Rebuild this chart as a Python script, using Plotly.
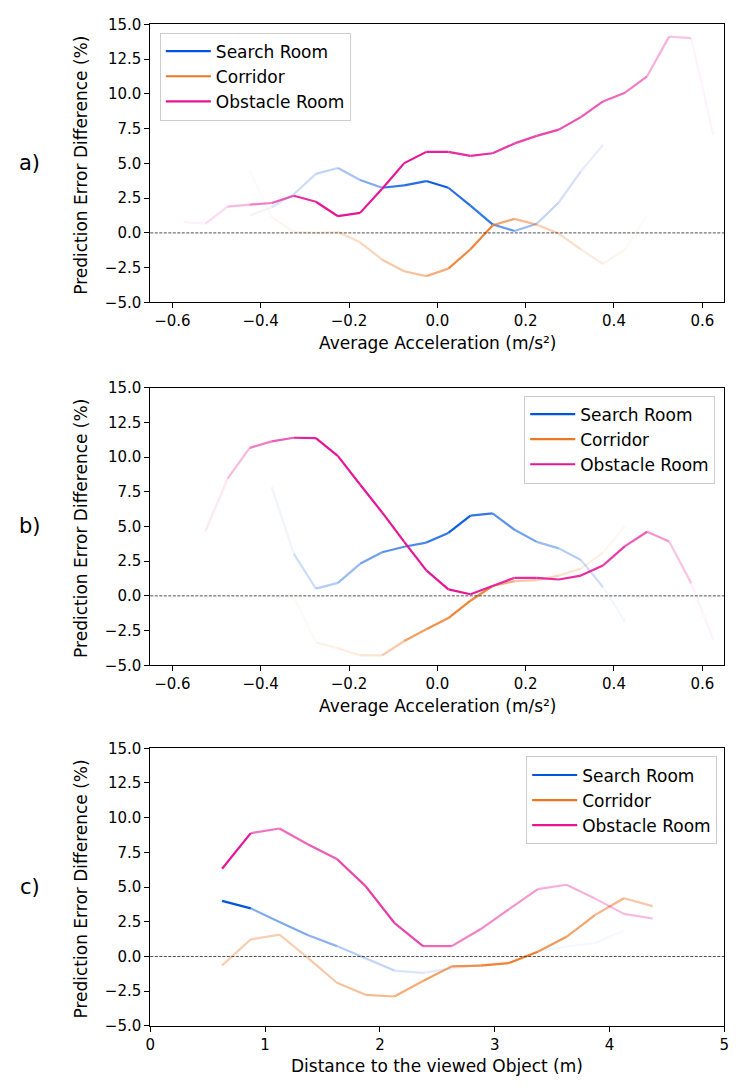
import plotly.graph_objects as go

# ---------------- data ----------------
x_acc = [-0.575, -0.525, -0.475, -0.425, -0.375, -0.325, -0.275, -0.225, -0.175, -0.125,
         -0.075, -0.025, 0.025, 0.075, 0.125, 0.175, 0.225, 0.275, 0.325, 0.375,
         0.425, 0.475, 0.525, 0.575, 0.625]
x_dist = [0.625, 0.875, 1.125, 1.375, 1.625, 1.875, 2.125, 2.375, 2.625, 2.875,
          3.125, 3.375, 3.625, 3.875, 4.125, 4.375]

series_names = ["Search Room", "Corridor", "Obstacle Room"]

# panel a
search_a = [None, None, None, 1.25, 1.84, 2.78, 4.25, 4.67, 3.80, 3.25, 3.42, 3.73, 3.25,
            1.96, 0.61, 0.14, 0.66, 2.19, 4.43, 6.32, None, None, None, None, None]
search_a_alpha = [0, 0, 0, 0.06, 0.15, 0.2, 0.25, 0.35, 0.5, 0.8, 0.85, 0.95, 0.85, 0.8,
                  0.6, 0.4, 0.25, 0.18, 0.1, 0, 0, 0, 0, 0]
corridor_a = [None, None, None, 4.48, 1.13, 0.07, 0.0, 0.07, -0.68, -1.93, -2.76, -3.11, -2.57,
              -1.18, 0.54, 1.01, 0.59, -0.05, -1.18, -2.24, -1.18, 1.25, None, None, None]
corridor_a_alpha = [0, 0, 0, 0.04, 0.08, 0.1, 0.12, 0.25, 0.3, 0.4, 0.45, 0.6, 0.85, 0.9,
                    0.65, 0.5, 0.35, 0.25, 0.15, 0.08, 0.04, 0, 0, 0]
obstacle_a = [0.78, 0.66, 1.89, 2.03, 2.15, 2.67, 2.24, 1.20, 1.44, 3.18, 5.02, 5.83, 5.83,
              5.54, 5.73, 6.44, 6.98, 7.43, 8.33, 9.46, 10.09, 11.27, 14.13, 14.01, 7.03]
obstacle_a_alpha = [0.06, 0.15, 0.3, 0.55, 0.7, 0.9, 1, 1, 1, 1, 1, 0.95, 0.9, 0.9, 0.85,
                    0.8, 0.8, 0.75, 0.7, 0.65, 0.55, 0.35, 0.25, 0.05]

# panel b
search_b = [None, None, None, None, 7.83, 3.02, 0.52, 0.94, 2.31, 3.14, 3.54, 3.84, 4.53,
            5.78, 5.94, 4.76, 3.89, 3.42, 2.59, 0.64, -1.85, None, None, None, None]
search_b_alpha = [0, 0, 0, 0, 0.06, 0.2, 0.3, 0.4, 0.55, 0.65, 0.7, 0.8, 0.95, 0.8, 0.65,
                  0.55, 0.4, 0.3, 0.2, 0.05, 0, 0, 0, 0]
corridor_b = [None, None, None, None, None, -0.1, -3.35, -3.77, -4.29, -4.29, -3.25, -2.41,
              -1.60, -0.35, 0.71, 1.06, 1.13, 1.46, 1.96, 3.11, 5.02, None, None, None, None]
corridor_b_alpha = [0, 0, 0, 0, 0, 0.04, 0.1, 0.15, 0.2, 0.4, 0.7, 0.8, 0.9, 0.85, 0.6,
                    0.4, 0.3, 0.2, 0.12, 0.06, 0, 0, 0, 0]
obstacle_b = [None, 4.67, 8.44, 10.66, 11.13, 11.39, 11.37, 10.07, 8.02, 6.01, 3.89, 1.84,
              0.47, 0.12, 0.71, 1.30, 1.30, 1.18, 1.46, 2.19, 3.58, 4.62, 3.92, 0.90, -3.18]
obstacle_b_alpha = [0, 0.1, 0.3, 0.55, 0.7, 0.95, 1, 1, 1, 1, 1, 1, 1, 0.95, 0.9, 0.9,
                    0.9, 0.9, 0.9, 0.85, 0.7, 0.45, 0.25, 0.05]

# panel c
search_c = [4.01, 3.47, 2.48, 1.53, 0.75, -0.12, -1.01, -1.18, -0.85, -0.6, -0.35, 0.35,
            0.72, 0.97, 1.88, None]
search_c_alpha = [1.0, 0.5, 0.5, 0.45, 0.3, 0.25, 0.15, 0.12, 0.08, 0.06, 0.05, 0.05,
                  0.04, 0.04, 0]
corridor_c = [-0.64, 1.23, 1.58, -0.12, -1.89, -2.76, -2.88, -1.77, -0.71, -0.66, -0.47,
              0.35, 1.42, 3.0, 4.2, 3.63]
corridor_c_alpha = [0.35, 0.35, 0.35, 0.4, 0.45, 0.5, 0.6, 0.7, 0.8, 0.9, 0.95, 0.75,
                    0.65, 0.55, 0.4]
obstacle_c = [6.32, 8.89, 9.22, 8.07, 7.03, 5.07, 2.43, 0.75, 0.75, 1.96, 3.42, 4.86, 5.17,
              4.17, 3.07, 2.74]
obstacle_c_alpha = [1.0, 0.6, 0.65, 0.7, 0.8, 0.85, 0.8, 0.65, 0.55, 0.5, 0.45, 0.35,
                    0.35, 0.3, 0.3]

y_ticks = [-5.0, -2.5, 0.0, 2.5, 5.0, 7.5, 10.0, 12.5, 15.0]
acc_ticks = [-0.6, -0.4, -0.2, 0.0, 0.2, 0.4, 0.6]
dist_ticks = [0, 1, 2, 3, 4, 5]

# ---------------- style ----------------
colors_rgb = [(0, 85, 221), (238, 118, 32), (228, 22, 150)]
FONT = "DejaVu Sans"
W, H = 736, 1090
LW = 2.2

fig = go.Figure()

panels = [
    ("", x_acc, [(search_a, search_a_alpha), (corridor_a, corridor_a_alpha), (obstacle_a, obstacle_a_alpha)], "legend"),
    ("2", x_acc, [(search_b, search_b_alpha), (corridor_b, corridor_b_alpha), (obstacle_b, obstacle_b_alpha)], "legend2"),
    ("3", x_dist, [(search_c, search_c_alpha), (corridor_c, corridor_c_alpha), (obstacle_c, obstacle_c_alpha)], "legend3"),
]

for suffix, xs, sers, leg in panels:
    xa, ya = "x" + suffix, "y" + suffix
    for k, (ys, al) in enumerate(sers):
        r, g, b = colors_rgb[k]
        for i in range(len(xs) - 1):
            if ys[i] is None or ys[i + 1] is None or al[i] <= 0:
                continue
            fig.add_trace(go.Scatter(
                x=[xs[i], xs[i + 1]], y=[ys[i], ys[i + 1]], mode="lines",
                line=dict(color=f"rgba({r},{g},{b},{al[i]})", width=LW),
                showlegend=False, hoverinfo="skip", xaxis=xa, yaxis=ya))
    for k, name in enumerate(series_names):
        r, g, b = colors_rgb[k]
        fig.add_trace(go.Scatter(
            x=[None], y=[None], mode="lines", name=name,
            line=dict(color=f"rgb({r},{g},{b})", width=LW),
            legend=leg, xaxis=xa, yaxis=ya))

# frame geometry (pixels)
left, right = 147.3, 729.3
frames = [(15.7, 298.3), (385.0, 667.3), (751.7, 1034.0)]

def py(v):
    return 1 - v / H

axis_common = dict(showline=True, mirror=True, linecolor="black", linewidth=1,
                   ticks="outside", ticklen=5, tickwidth=1, tickcolor="black",
                   showgrid=False, zeroline=False,
                   tickfont=dict(family=FONT, size=15, color="black"))

layout = dict(width=W, height=H, margin=dict(l=0, r=0, t=0, b=0),
              paper_bgcolor="white", plot_bgcolor="white",
              font=dict(family=FONT, size=15, color="black"))

for idx, (suffix, xs, sers, leg) in enumerate(panels):
    top, bot = frames[idx]
    xkey = "xaxis" + suffix
    ykey = "yaxis" + suffix
    if idx < 2:
        xr = [-0.65, 0.65]
        xt = dict(tickvals=acc_ticks, ticktext=[f"{v:.1f}".replace("-", "\u2212") for v in acc_ticks])
    else:
        xr = [0, 5]
        xt = dict(tickvals=dist_ticks, ticktext=[str(v) for v in dist_ticks])
    layout[xkey] = dict(axis_common, domain=[left / W, right / W], range=xr,
                        anchor="y" + suffix, **xt)
    layout[ykey] = dict(axis_common, domain=[py(bot), py(top)], range=[-5, 15],
                        anchor="x" + suffix, tickvals=y_ticks,
                        ticktext=[f"{v:.1f}".replace("-", "\u2212") for v in y_ticks])

leg_common = dict(bgcolor="rgba(255,255,255,0.8)", bordercolor="#cccccc", borderwidth=1,
                  font=dict(family=FONT, size=17, color="black"), tracegroupgap=0,
                  itemwidth=45)
layout["legend"] = dict(leg_common, x=157 / W, y=py(24), xanchor="left", yanchor="top")
layout["legend2"] = dict(leg_common, x=720 / W, y=py(393), xanchor="right", yanchor="top")
layout["legend3"] = dict(leg_common, x=722 / W, y=py(760), xanchor="right", yanchor="top")

shapes = []
for suffix in ["", "2", "3"]:
    shapes.append(dict(type="line", xref=("x" + suffix) + " domain", yref="y" + suffix,
                       x0=0, x1=1, y0=0, y1=0,
                       line=dict(color="#222222", width=0.8, dash="3px,1.5px")))
layout["shapes"] = shapes

annotations = []
xtitles = ["Average Acceleration (m/s\u00b2)", "Average Acceleration (m/s\u00b2)",
           "Distance to the viewed Object (m)"]
labels = ["a)", "b)", "c)"]
for idx, (top, bot) in enumerate(frames):
    mid = (top + bot) / 2
    annotations.append(dict(text=xtitles[idx], xref="paper", yref="paper",
                            x=(left + right) / 2 / W, y=py(bot + 41), xanchor="center",
                            yanchor="middle", showarrow=False,
                            font=dict(family=FONT, size=17, color="black")))
    annotations.append(dict(text="Prediction Error Difference (%)", xref="paper", yref="paper",
                            x=77.5 / W, y=py(mid + 2), xanchor="center", yanchor="middle",
                            textangle=-90, showarrow=False,
                            font=dict(family=FONT, size=17, color="black")))
    annotations.append(dict(text=labels[idx], xref="paper", yref="paper",
                            x=25 / W, y=py(mid), xanchor="center", yanchor="middle",
                            showarrow=False, font=dict(family=FONT, size=21, color="black")))
layout["annotations"] = annotations

fig.update_layout(**layout)
fig.write_html("out.html", config={"displayModeBar": False},
               post_script="document.body.style.margin='0px';"
                           "document.documentElement.style.overflow='hidden';")
